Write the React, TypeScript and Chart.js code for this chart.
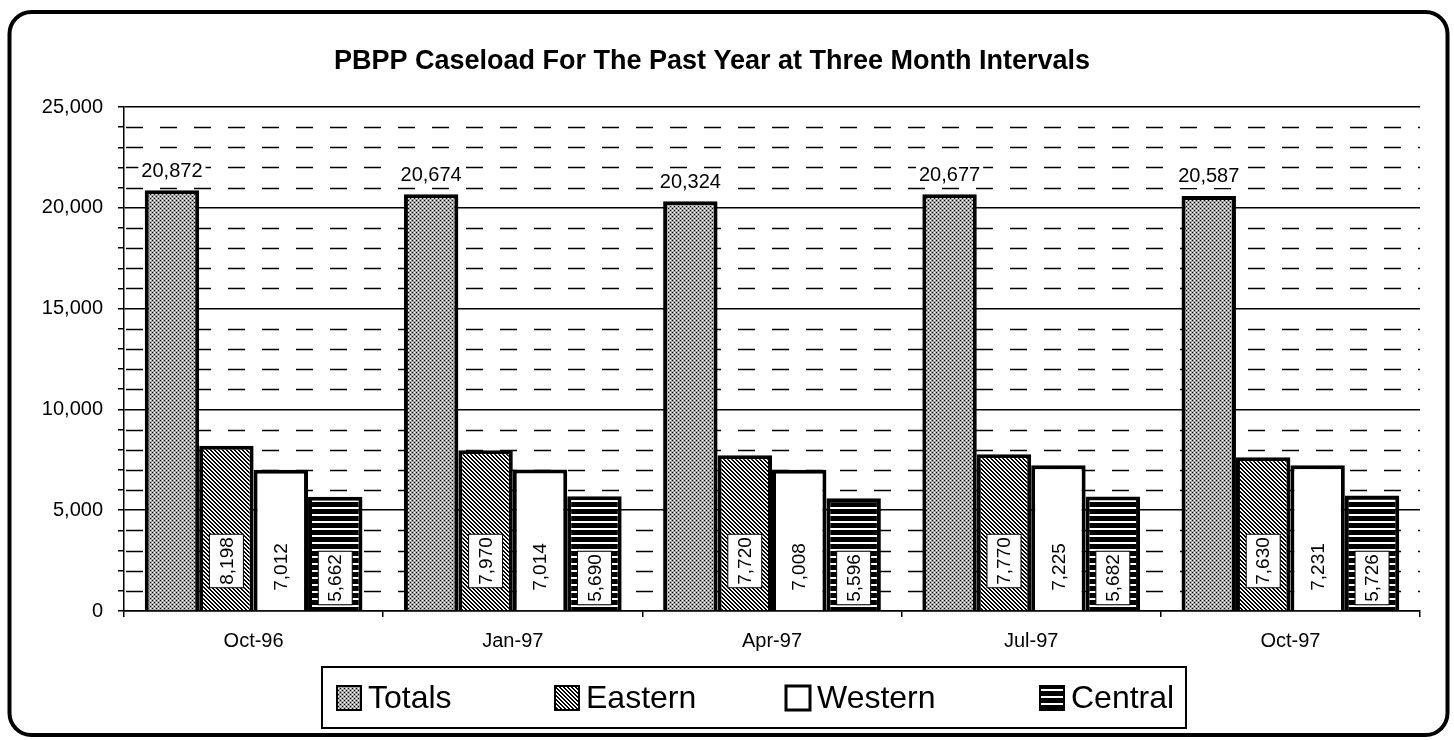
import React, { useEffect, useRef } from 'react';
import { Chart, registerables } from 'chart.js';

Chart.register(...registerables);

// ---------- data ----------
const categories = ['Oct-96', 'Jan-97', 'Apr-97', 'Jul-97', 'Oct-97'];
const seriesNames = ['Totals', 'Eastern', 'Western', 'Central'];
const totals = [20872, 20674, 20324, 20677, 20587];
const eastern = [8198, 7970, 7720, 7770, 7630];
const western = [7012, 7014, 7008, 7225, 7231];
const central = [5662, 5690, 5596, 5682, 5726];
const yMax = 25000;
const yMajorStep = 5000;
const yMinorStep = 1000;
const chartTitle = 'PBPP Caseload For The Past Year at Three Month Intervals';

// ---------- styles ----------
const FONT = '"Liberation Sans", Arial, Helvetica, sans-serif';
const fmt = (v: number) => Math.round(v).toLocaleString('en-US');

function makePattern(kind: string): CanvasPattern | string {
  const c = document.createElement('canvas');
  const g = c.getContext('2d');
  if (!g) return '#888';
  if (kind === 'totals') {
    c.width = 4; c.height = 4;
    g.fillStyle = '#a4a4a4'; g.fillRect(0, 0, 4, 4);
    g.fillStyle = '#000';
    g.fillRect(0, 0, 1, 1); g.fillRect(2, 2, 1, 1);
    g.fillStyle = '#fff';
    g.fillRect(2, 0, 1, 1); g.fillRect(0, 2, 1, 1);
  } else if (kind === 'eastern') {
    c.width = 4; c.height = 4;
    g.fillStyle = '#fff'; g.fillRect(0, 0, 4, 4);
    g.fillStyle = '#000';
    for (let i = 0; i < 4; i++) {
      g.fillRect(i, i, 1, 1);
      g.fillRect((i + 1) % 4, i, 1, 1);
    }
  } else if (kind === 'central') {
    c.width = 4; c.height = 7;
    g.fillStyle = '#000'; g.fillRect(0, 0, 4, 7);
    g.fillStyle = '#fff'; g.fillRect(0, 3, 4, 2);
  } else {
    return '#ffffff';
  }
  const p = g.createPattern(c, 'repeat');
  return p || '#888';
}

const rotatedOffsets = [0, 50, 44, 33];

const decorPlugin = {
  id: 'decor',
  beforeDatasetsDraw(chart: any) {
    const { ctx, chartArea, scales } = chart;
    const y = scales.y;
    ctx.save();
    ctx.strokeStyle = '#000';
    ctx.lineWidth = 1.5;
    ctx.setLineDash([17, 17]);
    ctx.lineDashOffset = -2;
    for (let v = yMinorStep; v < yMax; v += yMinorStep) {
      if (v % yMajorStep === 0) continue;
      const py = Math.round(y.getPixelForValue(v)) + 0.5;
      ctx.beginPath();
      ctx.moveTo(chartArea.left, py);
      ctx.lineTo(chartArea.right, py);
      ctx.stroke();
    }
    ctx.restore();
  },
  afterDatasetsDraw(chart: any) {
    const { ctx, chartArea } = chart;
    chart.data.datasets.forEach((ds: any, di: number) => {
      const meta = chart.getDatasetMeta(di);
      meta.data.forEach((bar: any, i: number) => {
        const text = fmt(ds.data[i]);
        ctx.save();
        if (di === 0) {
          ctx.font = `20px ${FONT}`;
          const w = ctx.measureText(text).width;
          const cy = bar.y - 19;
          ctx.fillStyle = '#fff';
          ctx.fillRect(bar.x - w / 2 - 3, cy - 11, w + 6, 22);
          ctx.fillStyle = '#000';
          ctx.textAlign = 'center';
          ctx.textBaseline = 'middle';
          ctx.fillText(text, bar.x, cy);
        } else {
          ctx.font = `19px ${FONT}`;
          const w = ctx.measureText(text).width;
          const cy = chartArea.bottom - rotatedOffsets[di];
          ctx.translate(bar.x, cy);
          ctx.rotate(-Math.PI / 2);
          ctx.fillStyle = '#fff';
          ctx.fillRect(-w / 2 - 3, -17, w + 6, 34);
          if (di !== 2) {
            ctx.strokeStyle = '#000';
            ctx.lineWidth = 1;
            ctx.strokeRect(-w / 2 - 3, -17, w + 6, 34);
          }
          ctx.fillStyle = '#000';
          ctx.textAlign = 'center';
          ctx.textBaseline = 'middle';
          ctx.fillText(text, 0, 1);
        }
        ctx.restore();
      });
    });
  },
  afterDraw(chart: any) {
    const { ctx } = chart;
    ctx.save();
    // title
    ctx.fillStyle = '#000';
    ctx.font = `bold 27px ${FONT}`;
    ctx.textAlign = 'center';
    ctx.textBaseline = 'middle';
    ctx.fillText(chartTitle, 712, 62);

    // legend
    const lg = { left: 322, top: 667, right: 1186, bottom: 728 };
    ctx.strokeStyle = '#000';
    ctx.lineWidth = 2;
    ctx.strokeRect(lg.left, lg.top, lg.right - lg.left, lg.bottom - lg.top);
    const iconX = [337, 555, 786, 1040];
    const cy = 698;
    chart.data.datasets.forEach((ds: any, di: number) => {
      const x = iconX[di];
      ctx.fillStyle = ds.backgroundColor;
      ctx.fillRect(x, cy - 12, 24, 24);
      ctx.lineWidth = di === 2 ? 3 : 2;
      ctx.strokeStyle = '#000';
      ctx.strokeRect(x, cy - 12, 24, 24);
      ctx.fillStyle = '#000';
      ctx.font = `32px ${FONT}`;
      ctx.textAlign = 'left';
      ctx.textBaseline = 'middle';
      ctx.fillText(ds.label, x + 31, cy + 1);
    });

    // outer rounded border
    const bx = 9.5, by = 12, bw = 1438, bh = 723, r = 22;
    ctx.lineWidth = 4;
    ctx.beginPath();
    ctx.moveTo(bx + r, by);
    ctx.lineTo(bx + bw - r, by);
    ctx.arcTo(bx + bw, by, bx + bw, by + r, r);
    ctx.lineTo(bx + bw, by + bh - r);
    ctx.arcTo(bx + bw, by + bh, bx + bw - r, by + bh, r);
    ctx.lineTo(bx + r, by + bh);
    ctx.arcTo(bx, by + bh, bx, by + bh - r, r);
    ctx.lineTo(bx, by + r);
    ctx.arcTo(bx, by, bx + r, by, r);
    ctx.closePath();
    ctx.stroke();
    ctx.restore();
  },
};

export default function App() {
  const ref = useRef<HTMLCanvasElement | null>(null);

  useEffect(() => {
    if (!ref.current) return;
    const fills = [makePattern('totals'), makePattern('eastern'), makePattern('western'), makePattern('central')];
    const values = [totals, eastern, western, central];
    const chart = new Chart(ref.current, {
      type: 'bar',
      data: {
        labels: categories,
        datasets: seriesNames.map((name, i) => ({
          label: name,
          data: values[i],
          backgroundColor: fills[i] as any,
          borderColor: '#000',
          borderWidth: 4,
          categoryPercentage: 0.84,
          barPercentage: 1,
        })),
      },
      options: {
        animation: false,
        responsive: false,
        devicePixelRatio: 1,
        layout: { padding: { left: 0, right: 34, top: 107, bottom: 89 } },
        plugins: {
          legend: { display: false },
          title: { display: false },
          tooltip: { enabled: false },
        },
        scales: {
          x: {
            grid: {
              offset: true,
              drawOnChartArea: false,
              drawTicks: true,
              tickLength: 6,
              color: '#000',
              lineWidth: 1.5,
            },
            border: { display: true, color: '#000', width: 1.5 },
            ticks: {
              font: { family: FONT, size: 20 },
              color: '#000',
              padding: 12,
              maxRotation: 0,
            },
            afterFit: (s: any) => { s.height = 40; },
          },
          y: {
            min: 0,
            max: yMax,
            grid: {
              color: (c: any) => (c.tick && c.tick.value % yMajorStep === 0 ? '#000' : 'rgba(0,0,0,0)'),
              tickColor: '#000',
              lineWidth: 1.5,
              tickLength: 6,
            },
            border: { display: true, color: '#000', width: 1.5 },
            ticks: {
              stepSize: yMinorStep,
              autoSkip: false,
              font: { family: FONT, size: 20 },
              color: '#000',
              padding: 15,
              callback: (v: any) => (Number(v) % yMajorStep === 0 ? fmt(Number(v)) : ''),
            },
            afterFit: (s: any) => { s.width = 124; },
          },
        },
      } as any,
      plugins: [decorPlugin],
    });
    return () => chart.destroy();
  }, []);

  return (
    <div style={{ position: 'fixed', left: 0, top: 0, width: 1454, height: 740, background: '#fff' }}>
      <canvas ref={ref} width={1454} height={740} style={{ width: 1454, height: 740, display: 'block' }} />
    </div>
  );
}
